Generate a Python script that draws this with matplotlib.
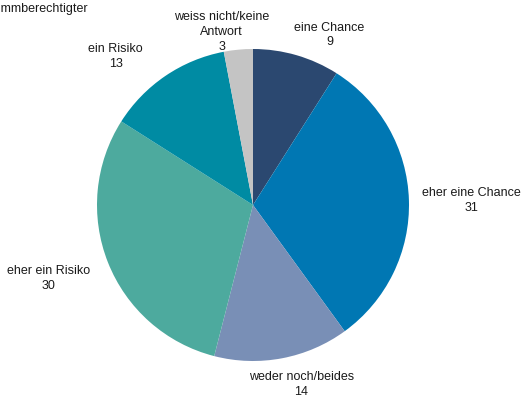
import matplotlib.pyplot as plt

plt.rcParams['font.family'] = ['Liberation Sans', 'DejaVu Sans']

# Share of voters, clockwise from 12 o'clock
categories = ['eine Chance', 'eher eine Chance', 'weder noch/beides',
              'eher ein Risiko', 'ein Risiko', 'weiss nicht/keine\nAntwort']
values = [9, 31, 14, 30, 13, 3]
colors = ['#2B4870', '#0077B3', '#798FB6', '#4DAA9E', '#008BA3', '#C4C4C4']

# label anchors (in pie-radius units)
label_pos = [(0.49, 1.09), (1.40, 0.03), (0.31, -1.15),
             (-1.31, -0.47), (-0.88, 0.95), (-0.20, 1.11)]

fig = plt.figure(figsize=(5.29, 3.97), dpi=100)
cx, cy, r = 253, 192, 156
ax = fig.add_axes([(cx - r) / 529, (cy - r) / 397, 2 * r / 529, 2 * r / 397])

ax.pie(values, colors=colors, startangle=90, counterclock=False,
       wedgeprops=dict(linewidth=0))
ax.set_xlim(-1, 1)
ax.set_ylim(-1, 1)
ax.axis('off')

for name, v, (x, y) in zip(categories, values, label_pos):
    ax.text(x, y, f'{name}\n{v}', ha='center', va='center',
            fontsize=9, color='#1a1a1a', linespacing=1.3)

fig.text(88 / 529, 1 - 9 / 397, '% Stimmberechtigter', ha='right', va='center',
         fontsize=9, color='#1a1a1a')

fig.savefig('out.png', dpi=100)
